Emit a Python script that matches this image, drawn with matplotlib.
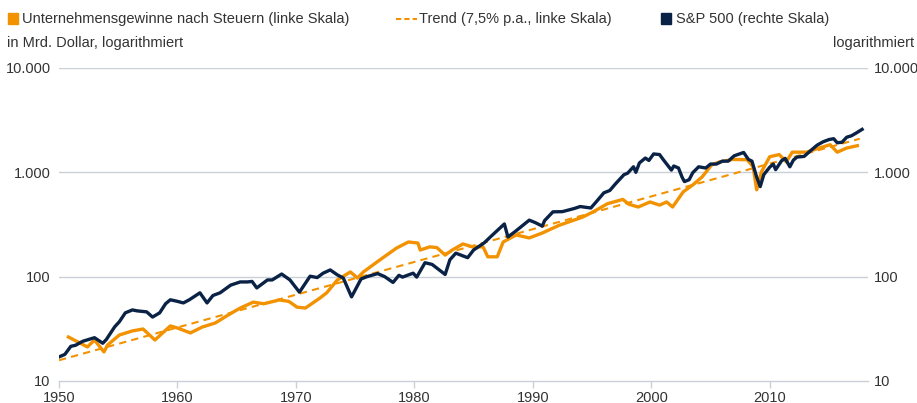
import numpy as np
import matplotlib
matplotlib.use("Agg")
import matplotlib.pyplot as plt
from matplotlib.lines import Line2D
from matplotlib.patches import Rectangle

plt.rcParams['font.family'] = ['Liberation Sans Narrow', 'Liberation Sans', 'DejaVu Sans']

# corporate profits after tax, bn USD (left scale)
profit_year = [1950.8, 1952.4, 1953.0, 1953.8, 1954.1, 1955.1, 1956.2, 1957.1, 1958.1, 1959.4,
               1960.0, 1961.1, 1962.1, 1963.2, 1964.3, 1965.3, 1966.4, 1967.3, 1968.6, 1969.4,
               1970.1, 1970.8, 1972.0, 1972.6, 1973.5, 1974.6, 1975.2, 1975.7, 1977.1, 1978.5,
               1979.5, 1980.3, 1980.5, 1981.3, 1981.9, 1982.6, 1983.2, 1984.1, 1984.9, 1985.8,
               1986.2, 1987.0, 1987.5, 1988.6, 1989.7, 1990.8, 1992.2, 1994.2, 1995.1, 1996.3,
               1997.6, 1998.1, 1998.9, 1999.9, 2000.7, 2001.3, 2001.8, 2002.7, 2003.5, 2004.3,
               2005.1, 2005.8, 2006.9, 2008.1, 2008.6, 2008.9, 2009.3, 2010.0, 2010.8, 2011.4,
               2011.9, 2013.1, 2014.2, 2015.1, 2015.7, 2016.5, 2017.4]
profit_val = [26.4, 21.2, 24.7, 19.0, 22.1, 27.6, 30.2, 31.5, 24.7, 33.7,
              32.2, 28.9, 32.9, 36.0, 43.0, 50.0, 57.0, 55.0, 59.8, 58.0,
              51.0, 50.0, 62.0, 70.0, 93.0, 111.0, 97.0, 111.0, 145.0, 188.0,
              215.0, 210.0, 180.0, 193.0, 190.0, 161.0, 180.0, 206.0, 193.0, 193.0,
              155.0, 155.0, 215.0, 251.0, 235.0, 262.0, 310.0, 372.0, 418.0, 500.0,
              550.0, 495.0, 465.0, 520.0, 485.0, 520.0, 465.0, 650.0, 756.0, 905.0,
              1180.0, 1260.0, 1330.0, 1320.0, 1130.0, 680.0, 1010.0, 1410.0, 1480.0, 1260.0,
              1560.0, 1560.0, 1710.0, 1840.0, 1560.0, 1710.0, 1800.0]

# S&P 500 index (right scale)
spx_year = [1950.0, 1950.5, 1951.0, 1951.4, 1952.0, 1952.5, 1953.0, 1953.7, 1954.0, 1954.7,
            1955.1, 1955.6, 1956.2, 1956.6, 1957.4, 1957.9, 1958.5, 1959.0, 1959.4,
            1960.0, 1960.5, 1961.0, 1961.9, 1962.5, 1963.0, 1963.6, 1964.5, 1965.3, 1965.9,
            1966.3, 1966.7, 1967.6, 1968.0, 1968.8, 1969.5, 1970.3, 1971.2, 1971.8, 1972.3,
            1972.9, 1973.5, 1974.0, 1974.7, 1975.5, 1976.0, 1976.9, 1977.5, 1978.2, 1978.7,
            1979.0, 1979.9, 1980.2, 1980.9, 1981.5, 1982.6, 1983.0, 1983.5, 1984.5, 1985.0,
            1985.9, 1986.5, 1987.6, 1987.9, 1988.5, 1989.7, 1990.2, 1990.8, 1991.0, 1991.7,
            1992.5, 1993.5, 1994.0, 1994.9, 1995.5, 1996.0, 1996.5, 1997.0, 1997.7, 1998.0,
            1998.5, 1998.7, 1999.0, 1999.5, 1999.8, 2000.2, 2000.7, 2001.0, 2001.7, 2001.9,
            2002.3, 2002.6, 2002.8, 2003.2, 2003.5, 2004.0, 2004.6, 2005.0, 2005.5, 2006.0,
            2006.5, 2007.0, 2007.8, 2008.2, 2008.5, 2008.9, 2009.2, 2009.5, 2010.0, 2010.3,
            2010.5, 2011.0, 2011.3, 2011.7, 2012.0, 2012.3, 2012.9, 2013.5, 2014.0, 2014.5,
            2015.0, 2015.4, 2015.7, 2016.1, 2016.5, 2016.9, 2017.3, 2017.8]
spx_val = [17, 18, 21.5, 22, 24, 25, 26, 23, 25, 33,
           37, 45, 48, 47, 46, 41, 45, 55, 60,
           58, 56, 60, 70, 56, 66, 70, 83, 89, 89,
           90, 78, 93, 93, 106, 93, 71, 101, 98, 108,
           116, 104, 97, 64, 95, 100, 107, 100, 88, 103,
           99, 108, 99, 136, 131, 105, 145, 168, 152, 180,
           211, 245, 320, 240, 270, 348, 330, 305, 345, 418,
           420, 450, 470, 455, 545, 636, 670, 780, 950, 980,
           1130, 1000, 1230, 1370, 1300, 1500, 1480, 1330, 1050, 1150,
           1100, 900, 815, 850, 990, 1130, 1100, 1200, 1200, 1280,
           1280, 1440, 1550, 1330, 1280, 900, 730, 950, 1120, 1200,
           1060, 1290, 1360, 1130, 1310, 1400, 1420, 1630, 1820, 1960,
           2060, 2100, 1920, 1940, 2170, 2240, 2380, 2580]

# trend, 7.5% p.a.
trend_years = [1950.0, 2017.6]
trend_start = 15.8
trend_rate = 0.075

orange = '#F39200'
navy = '#0A2245'
grid_col = '#C9D0D8'
txt_col = '#333333'

fig = plt.figure(figsize=(9.17, 4.03), dpi=100)
ax = fig.add_axes([0.0643, 0.0546, 0.9466 - 0.0643, 0.8313 - 0.0546])

trend_vals = [trend_start * (1 + trend_rate) ** (y - trend_years[0]) for y in trend_years]
ax.plot(trend_years, trend_vals, color=orange, lw=1.5, ls=(0, (3.5, 2.5)), zorder=2)
ax.plot(profit_year, profit_val, color=orange, lw=2.4, zorder=3, solid_joinstyle='round')
ax.plot(spx_year, spx_val, color=navy, lw=2.4, zorder=4, solid_joinstyle='round')

ax.set_yscale('log')
ax.set_ylim(10, 10000)
ax.set_xlim(1950, 2018.3)
yt = [10, 100, 1000, 10000]
ylab = ['10', '100', '1.000', '10.000']
ax.set_yticks(yt)
ax.set_yticklabels(ylab)
ax.yaxis.set_minor_locator(matplotlib.ticker.NullLocator())
ax.tick_params(axis='y', length=0, pad=6, labelsize=10.5, labelcolor=txt_col)
for v in yt[1:]:
    ax.axhline(v, color=grid_col, lw=1.0, zorder=1)

ax.set_xticks(range(1950, 2011, 10))
ax.tick_params(axis='x', length=5, width=1, color=grid_col, labelsize=10.5,
               labelcolor=txt_col, pad=2)
for s in ['top', 'left', 'right']:
    ax.spines[s].set_visible(False)
ax.spines['bottom'].set_color(grid_col)
ax.spines['bottom'].set_linewidth(1.0)

ax2 = ax.twinx()
ax2.set_yscale('log')
ax2.set_ylim(10, 10000)
ax2.set_yticks(yt)
ax2.set_yticklabels(ylab)
ax2.yaxis.set_minor_locator(matplotlib.ticker.NullLocator())
ax2.tick_params(axis='y', length=0, pad=4, labelsize=10.5, labelcolor=txt_col)
for s in ax2.spines.values():
    s.set_visible(False)

# legend row
fs = 10.5
fig.patches.append(Rectangle((8 / 917, 1 - 24 / 403), 10 / 917, 11 / 403,
                             transform=fig.transFigure, color=orange))
fig.text(22 / 917, 1 - 19 / 403, 'Unternehmensgewinne nach Steuern (linke Skala)',
         fontsize=fs, color=txt_col, va='center')
fig.lines.append(Line2D([396 / 917, 417 / 917], [1 - 19 / 403, 1 - 19 / 403],
                        transform=fig.transFigure, color=orange, lw=1.5, ls=(0, (2.5, 1.5))))
fig.text(419 / 917, 1 - 19 / 403, 'Trend (7,5% p.a., linke Skala)',
         fontsize=fs, color=txt_col, va='center')
fig.patches.append(Rectangle((661 / 917, 1 - 24 / 403), 10 / 917, 11 / 403,
                             transform=fig.transFigure, color=navy))
fig.text(676 / 917, 1 - 19 / 403, 'S&P 500 (rechte Skala)',
         fontsize=fs, color=txt_col, va='center')

fig.text(7 / 917, 1 - 43 / 403, 'in Mrd. Dollar, logarithmiert',
         fontsize=fs, color=txt_col, va='center')
fig.text(914 / 917, 1 - 43 / 403, 'logarithmiert',
         fontsize=fs, color=txt_col, va='center', ha='right')

fig.savefig('out.png', dpi=100)
